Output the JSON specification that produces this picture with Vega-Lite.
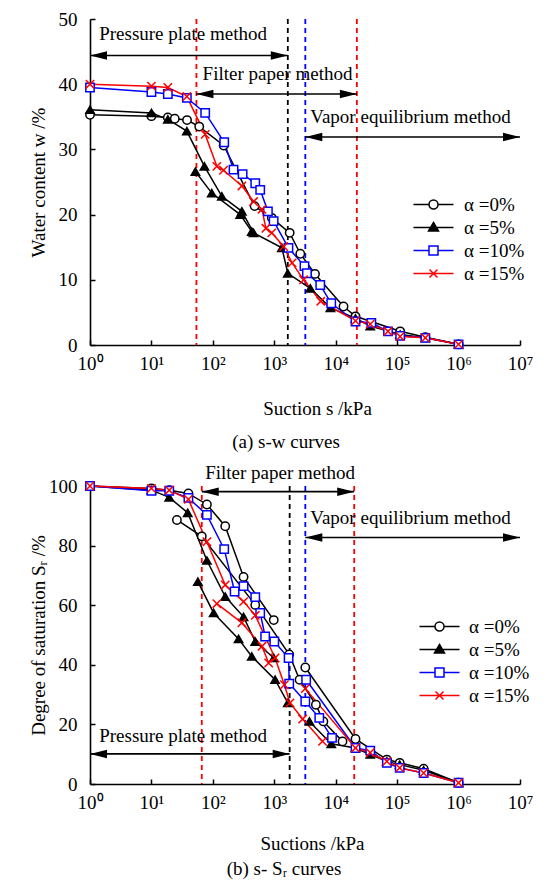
{
  "$schema": "https://vega.github.io/schema/vega-lite/v6.json",
  "background": "white",
  "padding": {"left": 29, "top": 10, "right": 0, "bottom": 0},
  "config": {
    "font": "Liberation Serif",
    "view": {"stroke": null},
    "axis": {"grid": false, "domainColor": "black", "domainWidth": 1.6, "tickColor": "black", "tickWidth": 1.5, "tickSize": -5, "labelFont": "Liberation Serif", "labelFontSize": 19, "labelColor": "black", "titleFont": "Liberation Serif", "titleFontSize": 19, "titleFontWeight": "normal", "titleColor": "black", "labelFlush": false, "labelOverlap": false},
    "legend": {"title": null, "orient": "none", "symbolSize": 100, "symbolStrokeWidth": 1.5, "labelFont": "Liberation Serif", "labelFontSize": 19, "labelColor": "black", "rowPadding": 3, "padding": 0},
    "title": {"font": "Liberation Serif", "fontSize": 19, "fontWeight": "normal", "color": "black"},
    "concat": {"spacing": 12}
  },
  "datasets": {
    "top": [
      {"series": "α =0%", "seg": "a", "s": 1, "v": 35.3},
      {"series": "α =0%", "seg": "a", "s": 10, "v": 35.1},
      {"series": "α =0%", "seg": "a", "s": 18.5, "v": 34.9},
      {"series": "α =0%", "seg": "a", "s": 24, "v": 34.7},
      {"series": "α =0%", "seg": "a", "s": 38, "v": 34.5},
      {"series": "α =0%", "seg": "a", "s": 60, "v": 33.5},
      {"series": "α =0%", "seg": "a", "s": 150, "v": 30.6},
      {"series": "α =0%", "seg": "a", "s": 478, "v": 21.3},
      {"series": "α =0%", "seg": "a", "s": 910, "v": 19.5},
      {"series": "α =0%", "seg": "a", "s": 1780, "v": 17.2},
      {"series": "α =0%", "seg": "a", "s": 2650, "v": 14.0},
      {"series": "α =0%", "seg": "a", "s": 4600, "v": 10.9},
      {"series": "α =0%", "seg": "a", "s": 13400, "v": 5.9},
      {"series": "α =0%", "seg": "a", "s": 21000, "v": 4.4},
      {"series": "α =0%", "seg": "a", "s": 112000, "v": 2.1},
      {"series": "α =0%", "seg": "a", "s": 288000, "v": 1.2},
      {"series": "α =0%", "seg": "a", "s": 1000000, "v": 0.1},
      {"series": "α =5%", "seg": "a", "s": 1, "v": 36.1},
      {"series": "α =5%", "seg": "a", "s": 10, "v": 35.6},
      {"series": "α =5%", "seg": "a", "s": 18.5, "v": 34.6},
      {"series": "α =5%", "seg": "a", "s": 37.7, "v": 32.8},
      {"series": "α =5%", "seg": "a", "s": 73, "v": 27.4},
      {"series": "α =5%", "seg": "a", "s": 140, "v": 22.8},
      {"series": "α =5%", "seg": "a", "s": 297, "v": 20.5},
      {"series": "α =5%", "seg": "a", "s": 460, "v": 17.2},
      {"series": "α =5%", "seg": "a", "s": 1330, "v": 14.9},
      {"series": "α =5%", "seg": "a", "s": 1660, "v": 11.0},
      {"series": "α =5%", "seg": "a", "s": 3860, "v": 8.7},
      {"series": "α =5%", "seg": "a", "s": 8200, "v": 5.7},
      {"series": "α =5%", "seg": "a", "s": 21000, "v": 4.1},
      {"series": "α =5%", "seg": "a", "s": 36500, "v": 2.9},
      {"series": "α =5%", "seg": "a", "s": 112000, "v": 1.6},
      {"series": "α =5%", "seg": "a", "s": 288000, "v": 1.1},
      {"series": "α =5%", "seg": "a", "s": 1000000, "v": 0.1},
      {"series": "α =5%", "seg": "b", "s": 52, "v": 26.6},
      {"series": "α =5%", "seg": "b", "s": 96, "v": 23.3},
      {"series": "α =5%", "seg": "b", "s": 279, "v": 20.0},
      {"series": "α =5%", "seg": "b", "s": 430, "v": 17.4},
      {"series": "α =10%", "seg": "a", "s": 1, "v": 39.5},
      {"series": "α =10%", "seg": "a", "s": 10, "v": 38.8},
      {"series": "α =10%", "seg": "a", "s": 18.5, "v": 38.5},
      {"series": "α =10%", "seg": "a", "s": 37.7, "v": 37.9},
      {"series": "α =10%", "seg": "a", "s": 75, "v": 35.6},
      {"series": "α =10%", "seg": "a", "s": 153, "v": 31.1},
      {"series": "α =10%", "seg": "a", "s": 217, "v": 26.9},
      {"series": "α =10%", "seg": "a", "s": 305, "v": 26.2},
      {"series": "α =10%", "seg": "a", "s": 490, "v": 24.8},
      {"series": "α =10%", "seg": "a", "s": 590, "v": 23.8},
      {"series": "α =10%", "seg": "a", "s": 787, "v": 20.5},
      {"series": "α =10%", "seg": "a", "s": 975, "v": 19.0},
      {"series": "α =10%", "seg": "a", "s": 1700, "v": 14.9},
      {"series": "α =10%", "seg": "a", "s": 3100, "v": 12.1},
      {"series": "α =10%", "seg": "a", "s": 3400, "v": 11.0},
      {"series": "α =10%", "seg": "a", "s": 5600, "v": 9.2},
      {"series": "α =10%", "seg": "a", "s": 8450, "v": 6.4},
      {"series": "α =10%", "seg": "a", "s": 21000, "v": 3.6},
      {"series": "α =10%", "seg": "a", "s": 38000, "v": 3.4},
      {"series": "α =10%", "seg": "a", "s": 71000, "v": 2.1},
      {"series": "α =10%", "seg": "a", "s": 112000, "v": 1.4},
      {"series": "α =10%", "seg": "a", "s": 288000, "v": 1.1},
      {"series": "α =10%", "seg": "a", "s": 1000000, "v": 0.1},
      {"series": "α =15%", "seg": "a", "s": 1, "v": 40.0},
      {"series": "α =15%", "seg": "a", "s": 10, "v": 39.7},
      {"series": "α =15%", "seg": "a", "s": 18.5, "v": 39.5},
      {"series": "α =15%", "seg": "a", "s": 37.7, "v": 38.1},
      {"series": "α =15%", "seg": "a", "s": 75, "v": 32.3},
      {"series": "α =15%", "seg": "a", "s": 116, "v": 27.4},
      {"series": "α =15%", "seg": "a", "s": 149, "v": 26.8},
      {"series": "α =15%", "seg": "a", "s": 297, "v": 24.4},
      {"series": "α =15%", "seg": "a", "s": 460, "v": 22.0},
      {"series": "α =15%", "seg": "a", "s": 630, "v": 20.8},
      {"series": "α =15%", "seg": "a", "s": 730, "v": 17.9},
      {"series": "α =15%", "seg": "a", "s": 910, "v": 17.2},
      {"series": "α =15%", "seg": "a", "s": 1420, "v": 15.1},
      {"series": "α =15%", "seg": "a", "s": 1950, "v": 12.6},
      {"series": "α =15%", "seg": "a", "s": 3000, "v": 10.0},
      {"series": "α =15%", "seg": "a", "s": 5700, "v": 6.7},
      {"series": "α =15%", "seg": "a", "s": 21000, "v": 3.7},
      {"series": "α =15%", "seg": "a", "s": 36500, "v": 3.2},
      {"series": "α =15%", "seg": "a", "s": 71000, "v": 2.1},
      {"series": "α =15%", "seg": "a", "s": 112000, "v": 1.3},
      {"series": "α =15%", "seg": "a", "s": 288000, "v": 1.1},
      {"series": "α =15%", "seg": "a", "s": 1000000, "v": 0.1}
    ],
    "bot": [
      {"series": "α =0%", "seg": "a", "s": 1, "v": 100},
      {"series": "α =0%", "seg": "a", "s": 10, "v": 99.2},
      {"series": "α =0%", "seg": "a", "s": 19.5, "v": 98.6},
      {"series": "α =0%", "seg": "a", "s": 40, "v": 97.5},
      {"series": "α =0%", "seg": "a", "s": 80, "v": 93.8},
      {"series": "α =0%", "seg": "a", "s": 159, "v": 86.5},
      {"series": "α =0%", "seg": "a", "s": 316, "v": 69.5},
      {"series": "α =0%", "seg": "a", "s": 980, "v": 55.0},
      {"series": "α =0%", "seg": "b", "s": 26, "v": 88.6},
      {"series": "α =0%", "seg": "b", "s": 66, "v": 83.1},
      {"series": "α =0%", "seg": "b", "s": 490, "v": 60.1},
      {"series": "α =0%", "seg": "b", "s": 1750, "v": 43.5},
      {"series": "α =0%", "seg": "b", "s": 2580, "v": 35.0},
      {"series": "α =0%", "seg": "b", "s": 4760, "v": 26.6},
      {"series": "α =0%", "seg": "b", "s": 6300, "v": 21.0},
      {"series": "α =0%", "seg": "b", "s": 12900, "v": 14.3},
      {"series": "α =0%", "seg": "c", "s": 3200, "v": 39.1},
      {"series": "α =0%", "seg": "c", "s": 21000, "v": 15.1},
      {"series": "α =0%", "seg": "c", "s": 68000, "v": 8.2},
      {"series": "α =0%", "seg": "c", "s": 110000, "v": 7.1},
      {"series": "α =0%", "seg": "c", "s": 270000, "v": 5.1},
      {"series": "α =0%", "seg": "c", "s": 1000000, "v": 0.4},
      {"series": "α =5%", "seg": "a", "s": 1, "v": 100},
      {"series": "α =5%", "seg": "a", "s": 10, "v": 98.6},
      {"series": "α =5%", "seg": "a", "s": 19.5, "v": 96.2},
      {"series": "α =5%", "seg": "a", "s": 39, "v": 91.0},
      {"series": "α =5%", "seg": "a", "s": 80, "v": 75.0},
      {"series": "α =5%", "seg": "a", "s": 159, "v": 62.9},
      {"series": "α =5%", "seg": "a", "s": 316, "v": 56.1},
      {"series": "α =5%", "seg": "a", "s": 490, "v": 47.8},
      {"series": "α =5%", "seg": "a", "s": 980, "v": 42.3},
      {"series": "α =5%", "seg": "b", "s": 57, "v": 67.9},
      {"series": "α =5%", "seg": "b", "s": 103, "v": 57.4},
      {"series": "α =5%", "seg": "b", "s": 262, "v": 48.7},
      {"series": "α =5%", "seg": "b", "s": 430, "v": 42.8},
      {"series": "α =5%", "seg": "b", "s": 1030, "v": 35.0},
      {"series": "α =5%", "seg": "b", "s": 1660, "v": 27.2},
      {"series": "α =5%", "seg": "c", "s": 3730, "v": 21.0},
      {"series": "α =5%", "seg": "c", "s": 8450, "v": 13.5},
      {"series": "α =5%", "seg": "c", "s": 21000, "v": 12.1},
      {"series": "α =5%", "seg": "c", "s": 36500, "v": 9.9},
      {"series": "α =5%", "seg": "c", "s": 68000, "v": 7.6},
      {"series": "α =5%", "seg": "c", "s": 110000, "v": 6.5},
      {"series": "α =5%", "seg": "c", "s": 270000, "v": 4.6},
      {"series": "α =5%", "seg": "c", "s": 1000000, "v": 0.4},
      {"series": "α =10%", "seg": "a", "s": 1, "v": 100},
      {"series": "α =10%", "seg": "a", "s": 10, "v": 98.4},
      {"series": "α =10%", "seg": "a", "s": 19.5, "v": 98.4},
      {"series": "α =10%", "seg": "a", "s": 40, "v": 96.0},
      {"series": "α =10%", "seg": "a", "s": 80, "v": 90.3},
      {"series": "α =10%", "seg": "a", "s": 153, "v": 78.8},
      {"series": "α =10%", "seg": "a", "s": 226, "v": 64.6},
      {"series": "α =10%", "seg": "a", "s": 316, "v": 66.4},
      {"series": "α =10%", "seg": "a", "s": 490, "v": 62.7},
      {"series": "α =10%", "seg": "a", "s": 590, "v": 57.4},
      {"series": "α =10%", "seg": "a", "s": 710, "v": 49.5},
      {"series": "α =10%", "seg": "a", "s": 1000, "v": 47.8},
      {"series": "α =10%", "seg": "a", "s": 1710, "v": 42.3},
      {"series": "α =10%", "seg": "a", "s": 1750, "v": 33.7},
      {"series": "α =10%", "seg": "a", "s": 3200, "v": 27.7},
      {"series": "α =10%", "seg": "a", "s": 5400, "v": 22.2},
      {"series": "α =10%", "seg": "a", "s": 8700, "v": 15.5},
      {"series": "α =10%", "seg": "c", "s": 3300, "v": 35.0},
      {"series": "α =10%", "seg": "c", "s": 21000, "v": 12.1},
      {"series": "α =10%", "seg": "c", "s": 36500, "v": 11.2},
      {"series": "α =10%", "seg": "c", "s": 68000, "v": 7.1},
      {"series": "α =10%", "seg": "c", "s": 110000, "v": 5.4},
      {"series": "α =10%", "seg": "c", "s": 270000, "v": 3.7},
      {"series": "α =10%", "seg": "c", "s": 1000000, "v": 0.4},
      {"series": "α =15%", "seg": "a", "s": 1, "v": 100},
      {"series": "α =15%", "seg": "a", "s": 10, "v": 99.2},
      {"series": "α =15%", "seg": "a", "s": 19.5, "v": 98.6},
      {"series": "α =15%", "seg": "a", "s": 40, "v": 95.5},
      {"series": "α =15%", "seg": "a", "s": 80, "v": 81.3},
      {"series": "α =15%", "seg": "a", "s": 159, "v": 66.8},
      {"series": "α =15%", "seg": "a", "s": 316, "v": 61.2},
      {"series": "α =15%", "seg": "a", "s": 490, "v": 56.6},
      {"series": "α =15%", "seg": "a", "s": 1030, "v": 42.3},
      {"series": "α =15%", "seg": "a", "s": 1460, "v": 33.3},
      {"series": "α =15%", "seg": "a", "s": 1800, "v": 27.2},
      {"series": "α =15%", "seg": "a", "s": 2900, "v": 21.8},
      {"series": "α =15%", "seg": "a", "s": 6100, "v": 14.3},
      {"series": "α =15%", "seg": "b", "s": 116, "v": 60.5},
      {"series": "α =15%", "seg": "b", "s": 297, "v": 54.1},
      {"series": "α =15%", "seg": "b", "s": 630, "v": 46.2},
      {"series": "α =15%", "seg": "b", "s": 810, "v": 40.6},
      {"series": "α =15%", "seg": "c", "s": 3200, "v": 32.0},
      {"series": "α =15%", "seg": "c", "s": 21000, "v": 12.1},
      {"series": "α =15%", "seg": "c", "s": 36500, "v": 10.5},
      {"series": "α =15%", "seg": "c", "s": 68000, "v": 7.6},
      {"series": "α =15%", "seg": "c", "s": 110000, "v": 5.4},
      {"series": "α =15%", "seg": "c", "s": 270000, "v": 3.7},
      {"series": "α =15%", "seg": "c", "s": 1000000, "v": 0.4}
    ],
    "topArrows": [
      {"method": "Pressure plate method", "s": 1, "s2": 1660, "v": 44.4},
      {"method": "Filter paper method", "s": 54, "s2": 22100, "v": 38.5},
      {"method": "Vapor equilibrium method", "s": 3200, "s2": 10000000, "v": 31.9}
    ],
    "topText": [
      {"label": "Pressure plate method", "s": 1.41, "v": 47.7},
      {"label": "Filter paper method", "s": 68, "v": 41.6},
      {"label": "Vapor equilibrium method", "s": 3860, "v": 34.9}
    ],
    "botArrows": [
      {"method": "Pressure plate method", "s": 1, "s2": 1780, "v": 10.1},
      {"method": "Filter paper method", "s": 66, "s2": 20000, "v": 98.1},
      {"method": "Vapor equilibrium method", "s": 3200, "s2": 10000000, "v": 82.7}
    ],
    "botText": [
      {"label": "Pressure plate method", "s": 1.41, "v": 16.2},
      {"label": "Filter paper method", "s": 75, "v": 104.3},
      {"label": "Vapor equilibrium method", "s": 3860, "v": 89.4}
    ]
  },
  "vconcat": [
    {
      "width": 430,
      "height": 326,
      "title": {"text": "(a) s-w curves", "orient": "bottom", "offset": 15, "dx": -19},
      "encoding": {
        "x": {"field": "s", "type": "quantitative", "scale": {"type": "log", "domain": [1, 10000000]},
              "axis": {"title": "Suction s /kPa", "values": [1, 10, 100, 1000, 10000, 100000, 1000000, 10000000], "labelExpr": "'10' + ['⁰','¹','²','³','⁴','⁵','⁶','⁷'][round(log(datum.value)/LN10)]", "labelPadding": 14, "titlePadding": 26, "titleX": 227}}
      },
      "layer": [
        {"data": {"values": [{"s": 54}, {"s": 22100}]}, "mark": {"type": "rule", "color": "#ff0000", "strokeDash": [5, 4], "strokeWidth": 1.8}, "encoding": {}},
        {"data": {"values": [{"s": 1660}]}, "mark": {"type": "rule", "color": "#000000", "strokeDash": [5, 4], "strokeWidth": 1.8}, "encoding": {}},
        {"data": {"values": [{"s": 3200}]}, "mark": {"type": "rule", "color": "#0000ff", "strokeDash": [5, 4], "strokeWidth": 1.8}, "encoding": {}},
        {"data": {"name": "topArrows"}, "mark": {"type": "rule", "color": "black", "strokeWidth": 1.6},
         "encoding": {"x2": {"field": "s2"},
                      "y": {"field": "v", "type": "quantitative", "scale": {"domain": [0, 50], "nice": false}, "axis": {"title": "Water content w /%", "values": [0, 10, 20, 30, 40, 50], "labelPadding": 18, "titleX": -42}}}},
        {"data": {"name": "topArrows"}, "mark": {"type": "point", "shape": "M0,0L2,-0.5L2,0.5Z", "filled": true, "color": "black", "size": 289, "opacity": 1, "strokeWidth": 0},
         "encoding": {"y": {"field": "v", "type": "quantitative", "scale": {"domain": [0, 50], "nice": false}, "axis": {"title": "Water content w /%", "values": [0, 10, 20, 30, 40, 50], "labelPadding": 18, "titleX": -42}}}},
        {"data": {"name": "topArrows"}, "mark": {"type": "point", "shape": "M0,0L-2,-0.5L-2,0.5Z", "filled": true, "color": "black", "size": 289, "opacity": 1, "strokeWidth": 0},
         "encoding": {"x": {"field": "s2", "type": "quantitative", "axis": {"title": "Suction s /kPa"}},
                      "y": {"field": "v", "type": "quantitative", "scale": {"domain": [0, 50], "nice": false}, "axis": {"title": "Water content w /%", "values": [0, 10, 20, 30, 40, 50], "labelPadding": 18, "titleX": -42}}}},
        {"data": {"name": "topText"}, "mark": {"type": "text", "align": "left", "baseline": "middle", "fontSize": 19, "font": "Liberation Serif", "color": "black"},
         "encoding": {"text": {"field": "label"},
                      "y": {"field": "v", "type": "quantitative", "scale": {"domain": [0, 50], "nice": false}, "axis": {"title": "Water content w /%", "values": [0, 10, 20, 30, 40, 50], "labelPadding": 18, "titleX": -42}}}},
        {"data": {"name": "top"}, "mark": {"type": "line", "strokeWidth": 1.5},
         "encoding": {"stroke": {"field": "series", "type": "nominal", "scale": {"domain": ["α =0%", "α =5%", "α =10%", "α =15%"], "range": ["#000000", "#000000", "#0000ff", "#ff0000"]},
                                 "legend": {"legendX": 319, "legendY": 176, "labelOffset": 36, "encode": {"symbols": {"update": {"shape": {"signal": "datum.value === 'α =0%' ? 'M-1,0H2.1M3.9,0H7M3.9,0A0.9,0.9,0,1,1,2.1,0A0.9,0.9,0,1,1,3.9,0Z' : datum.value === 'α =5%' ? 'M-1,0H7M3,-1L4,0.7L2,0.7Z' : datum.value === 'α =10%' ? 'M-1,0H2.1M3.9,0H7M2.1,-0.9H3.9V0.9H2.1Z' : 'M-1,0H7M2.2,-0.8L3.8,0.8M2.2,0.8L3.8,-0.8'"}, "size": {"value": 100}, "strokeWidth": {"value": 1.5}, "opacity": {"value": 1}}}}}},
                      "detail": {"field": "seg"},
                      "y": {"field": "v", "type": "quantitative", "scale": {"domain": [0, 50], "nice": false}, "axis": {"title": "Water content w /%", "values": [0, 10, 20, 30, 40, 50], "labelPadding": 18, "titleX": -42}}}},
        {"data": {"name": "top"}, "transform": [{"filter": {"field": "series", "equal": "α =0%"}}],
         "mark": {"type": "point", "shape": "circle", "filled": true, "size": 70, "strokeWidth": 1.5, "opacity": 1},
         "encoding": {
           "y": {"field": "v", "type": "quantitative", "scale": {"domain": [0, 50], "nice": false}, "axis": {"title": "Water content w /%", "values": [0, 10, 20, 30, 40, 50], "labelPadding": 18, "titleX": -42}},
           "stroke": {"field": "series", "type": "nominal", "scale": {"domain": ["α =0%", "α =5%", "α =10%", "α =15%"], "range": ["#000000", "#000000", "#0000ff", "#ff0000"]},
                      "legend": {"legendX": 319, "legendY": 176, "labelOffset": 36, "encode": {"symbols": {"update": {"shape": {"signal": "datum.value === 'α =0%' ? 'M-1,0H2.1M3.9,0H7M3.9,0A0.9,0.9,0,1,1,2.1,0A0.9,0.9,0,1,1,3.9,0Z' : datum.value === 'α =5%' ? 'M-1,0H7M3,-1L4,0.7L2,0.7Z' : datum.value === 'α =10%' ? 'M-1,0H2.1M3.9,0H7M2.1,-0.9H3.9V0.9H2.1Z' : 'M-1,0H7M2.2,-0.8L3.8,0.8M2.2,0.8L3.8,-0.8'"}, "size": {"value": 100}, "strokeWidth": {"value": 1.5}, "opacity": {"value": 1}}}}}},
           "fill": {"field": "series", "type": "nominal", "scale": {"domain": ["α =0%", "α =5%", "α =10%", "α =15%"], "range": ["#ffffff", "#000000", "#ffffff", "#ff0000"]},
                      "legend": {"legendX": 319, "legendY": 176, "labelOffset": 36, "encode": {"symbols": {"update": {"shape": {"signal": "datum.value === 'α =0%' ? 'M-1,0H2.1M3.9,0H7M3.9,0A0.9,0.9,0,1,1,2.1,0A0.9,0.9,0,1,1,3.9,0Z' : datum.value === 'α =5%' ? 'M-1,0H7M3,-1L4,0.7L2,0.7Z' : datum.value === 'α =10%' ? 'M-1,0H2.1M3.9,0H7M2.1,-0.9H3.9V0.9H2.1Z' : 'M-1,0H7M2.2,-0.8L3.8,0.8M2.2,0.8L3.8,-0.8'"}, "size": {"value": 100}, "strokeWidth": {"value": 1.5}, "opacity": {"value": 1}}}}}}
         }},
        {"data": {"name": "top"}, "transform": [{"filter": {"field": "series", "equal": "α =5%"}}],
         "mark": {"type": "point", "shape": "triangle-up", "filled": true, "size": 70, "strokeWidth": 1.5, "opacity": 1},
         "encoding": {
           "y": {"field": "v", "type": "quantitative", "scale": {"domain": [0, 50], "nice": false}, "axis": {"title": "Water content w /%", "values": [0, 10, 20, 30, 40, 50], "labelPadding": 18, "titleX": -42}},
           "stroke": {"field": "series", "type": "nominal", "scale": {"domain": ["α =0%", "α =5%", "α =10%", "α =15%"], "range": ["#000000", "#000000", "#0000ff", "#ff0000"]},
                      "legend": {"legendX": 319, "legendY": 176, "labelOffset": 36, "encode": {"symbols": {"update": {"shape": {"signal": "datum.value === 'α =0%' ? 'M-1,0H2.1M3.9,0H7M3.9,0A0.9,0.9,0,1,1,2.1,0A0.9,0.9,0,1,1,3.9,0Z' : datum.value === 'α =5%' ? 'M-1,0H7M3,-1L4,0.7L2,0.7Z' : datum.value === 'α =10%' ? 'M-1,0H2.1M3.9,0H7M2.1,-0.9H3.9V0.9H2.1Z' : 'M-1,0H7M2.2,-0.8L3.8,0.8M2.2,0.8L3.8,-0.8'"}, "size": {"value": 100}, "strokeWidth": {"value": 1.5}, "opacity": {"value": 1}}}}}},
           "fill": {"field": "series", "type": "nominal", "scale": {"domain": ["α =0%", "α =5%", "α =10%", "α =15%"], "range": ["#ffffff", "#000000", "#ffffff", "#ff0000"]},
                      "legend": {"legendX": 319, "legendY": 176, "labelOffset": 36, "encode": {"symbols": {"update": {"shape": {"signal": "datum.value === 'α =0%' ? 'M-1,0H2.1M3.9,0H7M3.9,0A0.9,0.9,0,1,1,2.1,0A0.9,0.9,0,1,1,3.9,0Z' : datum.value === 'α =5%' ? 'M-1,0H7M3,-1L4,0.7L2,0.7Z' : datum.value === 'α =10%' ? 'M-1,0H2.1M3.9,0H7M2.1,-0.9H3.9V0.9H2.1Z' : 'M-1,0H7M2.2,-0.8L3.8,0.8M2.2,0.8L3.8,-0.8'"}, "size": {"value": 100}, "strokeWidth": {"value": 1.5}, "opacity": {"value": 1}}}}}}
         }},
        {"data": {"name": "top"}, "transform": [{"filter": {"field": "series", "equal": "α =10%"}}],
         "mark": {"type": "point", "shape": "square", "filled": true, "size": 70, "strokeWidth": 1.5, "opacity": 1},
         "encoding": {
           "y": {"field": "v", "type": "quantitative", "scale": {"domain": [0, 50], "nice": false}, "axis": {"title": "Water content w /%", "values": [0, 10, 20, 30, 40, 50], "labelPadding": 18, "titleX": -42}},
           "stroke": {"field": "series", "type": "nominal", "scale": {"domain": ["α =0%", "α =5%", "α =10%", "α =15%"], "range": ["#000000", "#000000", "#0000ff", "#ff0000"]},
                      "legend": {"legendX": 319, "legendY": 176, "labelOffset": 36, "encode": {"symbols": {"update": {"shape": {"signal": "datum.value === 'α =0%' ? 'M-1,0H2.1M3.9,0H7M3.9,0A0.9,0.9,0,1,1,2.1,0A0.9,0.9,0,1,1,3.9,0Z' : datum.value === 'α =5%' ? 'M-1,0H7M3,-1L4,0.7L2,0.7Z' : datum.value === 'α =10%' ? 'M-1,0H2.1M3.9,0H7M2.1,-0.9H3.9V0.9H2.1Z' : 'M-1,0H7M2.2,-0.8L3.8,0.8M2.2,0.8L3.8,-0.8'"}, "size": {"value": 100}, "strokeWidth": {"value": 1.5}, "opacity": {"value": 1}}}}}},
           "fill": {"field": "series", "type": "nominal", "scale": {"domain": ["α =0%", "α =5%", "α =10%", "α =15%"], "range": ["#ffffff", "#000000", "#ffffff", "#ff0000"]},
                      "legend": {"legendX": 319, "legendY": 176, "labelOffset": 36, "encode": {"symbols": {"update": {"shape": {"signal": "datum.value === 'α =0%' ? 'M-1,0H2.1M3.9,0H7M3.9,0A0.9,0.9,0,1,1,2.1,0A0.9,0.9,0,1,1,3.9,0Z' : datum.value === 'α =5%' ? 'M-1,0H7M3,-1L4,0.7L2,0.7Z' : datum.value === 'α =10%' ? 'M-1,0H2.1M3.9,0H7M2.1,-0.9H3.9V0.9H2.1Z' : 'M-1,0H7M2.2,-0.8L3.8,0.8M2.2,0.8L3.8,-0.8'"}, "size": {"value": 100}, "strokeWidth": {"value": 1.5}, "opacity": {"value": 1}}}}}}
         }},
        {"data": {"name": "top"}, "transform": [{"filter": {"field": "series", "equal": "α =15%"}}],
         "mark": {"type": "point", "shape": "M-1,-1L1,1M-1,1L1,-1", "filled": true, "size": 70, "strokeWidth": 1.5, "opacity": 1},
         "encoding": {
           "y": {"field": "v", "type": "quantitative", "scale": {"domain": [0, 50], "nice": false}, "axis": {"title": "Water content w /%", "values": [0, 10, 20, 30, 40, 50], "labelPadding": 18, "titleX": -42}},
           "stroke": {"field": "series", "type": "nominal", "scale": {"domain": ["α =0%", "α =5%", "α =10%", "α =15%"], "range": ["#000000", "#000000", "#0000ff", "#ff0000"]},
                      "legend": {"legendX": 319, "legendY": 176, "labelOffset": 36, "encode": {"symbols": {"update": {"shape": {"signal": "datum.value === 'α =0%' ? 'M-1,0H2.1M3.9,0H7M3.9,0A0.9,0.9,0,1,1,2.1,0A0.9,0.9,0,1,1,3.9,0Z' : datum.value === 'α =5%' ? 'M-1,0H7M3,-1L4,0.7L2,0.7Z' : datum.value === 'α =10%' ? 'M-1,0H2.1M3.9,0H7M2.1,-0.9H3.9V0.9H2.1Z' : 'M-1,0H7M2.2,-0.8L3.8,0.8M2.2,0.8L3.8,-0.8'"}, "size": {"value": 100}, "strokeWidth": {"value": 1.5}, "opacity": {"value": 1}}}}}},
           "fill": {"field": "series", "type": "nominal", "scale": {"domain": ["α =0%", "α =5%", "α =10%", "α =15%"], "range": ["#ffffff", "#000000", "#ffffff", "#ff0000"]},
                      "legend": {"legendX": 319, "legendY": 176, "labelOffset": 36, "encode": {"symbols": {"update": {"shape": {"signal": "datum.value === 'α =0%' ? 'M-1,0H2.1M3.9,0H7M3.9,0A0.9,0.9,0,1,1,2.1,0A0.9,0.9,0,1,1,3.9,0Z' : datum.value === 'α =5%' ? 'M-1,0H7M3,-1L4,0.7L2,0.7Z' : datum.value === 'α =10%' ? 'M-1,0H2.1M3.9,0H7M2.1,-0.9H3.9V0.9H2.1Z' : 'M-1,0H7M2.2,-0.8L3.8,0.8M2.2,0.8L3.8,-0.8'"}, "size": {"value": 100}, "strokeWidth": {"value": 1.5}, "opacity": {"value": 1}}}}}}
         }}
      ]
    },
    {
      "width": 430,
      "height": 298,
      "title": {"text": "(b) s- Sᵣ curves", "orient": "bottom", "offset": 7, "dx": -21},
      "encoding": {
        "x": {"field": "s", "type": "quantitative", "scale": {"type": "log", "domain": [1, 10000000]},
              "axis": {"title": "Suctions /kPa", "values": [1, 10, 100, 1000, 10000, 100000, 1000000, 10000000], "labelExpr": "'10' + ['⁰','¹','²','³','⁴','⁵','⁶','⁷'][round(log(datum.value)/LN10)]", "labelPadding": 14, "titlePadding": 22, "titleX": 222}}
      },
      "layer": [
        {"data": {"values": [{"s": 66}, {"s": 20000}]}, "mark": {"type": "rule", "color": "#ff0000", "strokeDash": [5, 4], "strokeWidth": 1.8}, "encoding": {}},
        {"data": {"values": [{"s": 1780}]}, "mark": {"type": "rule", "color": "#000000", "strokeDash": [5, 4], "strokeWidth": 1.8}, "encoding": {}},
        {"data": {"values": [{"s": 3200}]}, "mark": {"type": "rule", "color": "#0000ff", "strokeDash": [5, 4], "strokeWidth": 1.8}, "encoding": {}},
        {"data": {"name": "botArrows"}, "mark": {"type": "rule", "color": "black", "strokeWidth": 1.6},
         "encoding": {"x2": {"field": "s2"},
                      "y": {"field": "v", "type": "quantitative", "scale": {"domain": [0, 100], "nice": false}, "axis": {"title": "Degree of saturation Sᵣ /%", "values": [0, 20, 40, 60, 80, 100], "labelPadding": 18, "titleX": -42}}}},
        {"data": {"name": "botArrows"}, "mark": {"type": "point", "shape": "M0,0L2,-0.5L2,0.5Z", "filled": true, "color": "black", "size": 289, "opacity": 1, "strokeWidth": 0},
         "encoding": {"y": {"field": "v", "type": "quantitative", "scale": {"domain": [0, 100], "nice": false}, "axis": {"title": "Degree of saturation Sᵣ /%", "values": [0, 20, 40, 60, 80, 100], "labelPadding": 18, "titleX": -42}}}},
        {"data": {"name": "botArrows"}, "mark": {"type": "point", "shape": "M0,0L-2,-0.5L-2,0.5Z", "filled": true, "color": "black", "size": 289, "opacity": 1, "strokeWidth": 0},
         "encoding": {"x": {"field": "s2", "type": "quantitative", "axis": {"title": "Suctions /kPa"}},
                      "y": {"field": "v", "type": "quantitative", "scale": {"domain": [0, 100], "nice": false}, "axis": {"title": "Degree of saturation Sᵣ /%", "values": [0, 20, 40, 60, 80, 100], "labelPadding": 18, "titleX": -42}}}},
        {"data": {"name": "botText"}, "mark": {"type": "text", "align": "left", "baseline": "middle", "fontSize": 19, "font": "Liberation Serif", "color": "black"},
         "encoding": {"text": {"field": "label"},
                      "y": {"field": "v", "type": "quantitative", "scale": {"domain": [0, 100], "nice": false}, "axis": {"title": "Degree of saturation Sᵣ /%", "values": [0, 20, 40, 60, 80, 100], "labelPadding": 18, "titleX": -42}}}},
        {"data": {"name": "bot"}, "mark": {"type": "line", "strokeWidth": 1.5},
         "encoding": {"stroke": {"field": "series", "type": "nominal", "scale": {"domain": ["α =0%", "α =5%", "α =10%", "α =15%"], "range": ["#000000", "#000000", "#0000ff", "#ff0000"]},
                                 "legend": {"legendX": 325, "legendY": 131, "labelOffset": 35, "encode": {"symbols": {"update": {"shape": {"signal": "datum.value === 'α =0%' ? 'M-1,0H2.1M3.9,0H7M3.9,0A0.9,0.9,0,1,1,2.1,0A0.9,0.9,0,1,1,3.9,0Z' : datum.value === 'α =5%' ? 'M-1,0H7M3,-1L4,0.7L2,0.7Z' : datum.value === 'α =10%' ? 'M-1,0H2.1M3.9,0H7M2.1,-0.9H3.9V0.9H2.1Z' : 'M-1,0H7M2.2,-0.8L3.8,0.8M2.2,0.8L3.8,-0.8'"}, "size": {"value": 100}, "strokeWidth": {"value": 1.5}, "opacity": {"value": 1}}}}}},
                      "detail": {"field": "seg"},
                      "y": {"field": "v", "type": "quantitative", "scale": {"domain": [0, 100], "nice": false}, "axis": {"title": "Degree of saturation Sᵣ /%", "values": [0, 20, 40, 60, 80, 100], "labelPadding": 18, "titleX": -42}}}},
        {"data": {"name": "bot"}, "transform": [{"filter": {"field": "series", "equal": "α =0%"}}],
         "mark": {"type": "point", "shape": "circle", "filled": true, "size": 70, "strokeWidth": 1.5, "opacity": 1},
         "encoding": {
           "y": {"field": "v", "type": "quantitative", "scale": {"domain": [0, 100], "nice": false}, "axis": {"title": "Degree of saturation Sᵣ /%", "values": [0, 20, 40, 60, 80, 100], "labelPadding": 18, "titleX": -42}},
           "stroke": {"field": "series", "type": "nominal", "scale": {"domain": ["α =0%", "α =5%", "α =10%", "α =15%"], "range": ["#000000", "#000000", "#0000ff", "#ff0000"]},
                      "legend": {"legendX": 325, "legendY": 131, "labelOffset": 35, "encode": {"symbols": {"update": {"shape": {"signal": "datum.value === 'α =0%' ? 'M-1,0H2.1M3.9,0H7M3.9,0A0.9,0.9,0,1,1,2.1,0A0.9,0.9,0,1,1,3.9,0Z' : datum.value === 'α =5%' ? 'M-1,0H7M3,-1L4,0.7L2,0.7Z' : datum.value === 'α =10%' ? 'M-1,0H2.1M3.9,0H7M2.1,-0.9H3.9V0.9H2.1Z' : 'M-1,0H7M2.2,-0.8L3.8,0.8M2.2,0.8L3.8,-0.8'"}, "size": {"value": 100}, "strokeWidth": {"value": 1.5}, "opacity": {"value": 1}}}}}},
           "fill": {"field": "series", "type": "nominal", "scale": {"domain": ["α =0%", "α =5%", "α =10%", "α =15%"], "range": ["#ffffff", "#000000", "#ffffff", "#ff0000"]},
                      "legend": {"legendX": 325, "legendY": 131, "labelOffset": 35, "encode": {"symbols": {"update": {"shape": {"signal": "datum.value === 'α =0%' ? 'M-1,0H2.1M3.9,0H7M3.9,0A0.9,0.9,0,1,1,2.1,0A0.9,0.9,0,1,1,3.9,0Z' : datum.value === 'α =5%' ? 'M-1,0H7M3,-1L4,0.7L2,0.7Z' : datum.value === 'α =10%' ? 'M-1,0H2.1M3.9,0H7M2.1,-0.9H3.9V0.9H2.1Z' : 'M-1,0H7M2.2,-0.8L3.8,0.8M2.2,0.8L3.8,-0.8'"}, "size": {"value": 100}, "strokeWidth": {"value": 1.5}, "opacity": {"value": 1}}}}}}
         }},
        {"data": {"name": "bot"}, "transform": [{"filter": {"field": "series", "equal": "α =5%"}}],
         "mark": {"type": "point", "shape": "triangle-up", "filled": true, "size": 70, "strokeWidth": 1.5, "opacity": 1},
         "encoding": {
           "y": {"field": "v", "type": "quantitative", "scale": {"domain": [0, 100], "nice": false}, "axis": {"title": "Degree of saturation Sᵣ /%", "values": [0, 20, 40, 60, 80, 100], "labelPadding": 18, "titleX": -42}},
           "stroke": {"field": "series", "type": "nominal", "scale": {"domain": ["α =0%", "α =5%", "α =10%", "α =15%"], "range": ["#000000", "#000000", "#0000ff", "#ff0000"]},
                      "legend": {"legendX": 325, "legendY": 131, "labelOffset": 35, "encode": {"symbols": {"update": {"shape": {"signal": "datum.value === 'α =0%' ? 'M-1,0H2.1M3.9,0H7M3.9,0A0.9,0.9,0,1,1,2.1,0A0.9,0.9,0,1,1,3.9,0Z' : datum.value === 'α =5%' ? 'M-1,0H7M3,-1L4,0.7L2,0.7Z' : datum.value === 'α =10%' ? 'M-1,0H2.1M3.9,0H7M2.1,-0.9H3.9V0.9H2.1Z' : 'M-1,0H7M2.2,-0.8L3.8,0.8M2.2,0.8L3.8,-0.8'"}, "size": {"value": 100}, "strokeWidth": {"value": 1.5}, "opacity": {"value": 1}}}}}},
           "fill": {"field": "series", "type": "nominal", "scale": {"domain": ["α =0%", "α =5%", "α =10%", "α =15%"], "range": ["#ffffff", "#000000", "#ffffff", "#ff0000"]},
                      "legend": {"legendX": 325, "legendY": 131, "labelOffset": 35, "encode": {"symbols": {"update": {"shape": {"signal": "datum.value === 'α =0%' ? 'M-1,0H2.1M3.9,0H7M3.9,0A0.9,0.9,0,1,1,2.1,0A0.9,0.9,0,1,1,3.9,0Z' : datum.value === 'α =5%' ? 'M-1,0H7M3,-1L4,0.7L2,0.7Z' : datum.value === 'α =10%' ? 'M-1,0H2.1M3.9,0H7M2.1,-0.9H3.9V0.9H2.1Z' : 'M-1,0H7M2.2,-0.8L3.8,0.8M2.2,0.8L3.8,-0.8'"}, "size": {"value": 100}, "strokeWidth": {"value": 1.5}, "opacity": {"value": 1}}}}}}
         }},
        {"data": {"name": "bot"}, "transform": [{"filter": {"field": "series", "equal": "α =10%"}}],
         "mark": {"type": "point", "shape": "square", "filled": true, "size": 70, "strokeWidth": 1.5, "opacity": 1},
         "encoding": {
           "y": {"field": "v", "type": "quantitative", "scale": {"domain": [0, 100], "nice": false}, "axis": {"title": "Degree of saturation Sᵣ /%", "values": [0, 20, 40, 60, 80, 100], "labelPadding": 18, "titleX": -42}},
           "stroke": {"field": "series", "type": "nominal", "scale": {"domain": ["α =0%", "α =5%", "α =10%", "α =15%"], "range": ["#000000", "#000000", "#0000ff", "#ff0000"]},
                      "legend": {"legendX": 325, "legendY": 131, "labelOffset": 35, "encode": {"symbols": {"update": {"shape": {"signal": "datum.value === 'α =0%' ? 'M-1,0H2.1M3.9,0H7M3.9,0A0.9,0.9,0,1,1,2.1,0A0.9,0.9,0,1,1,3.9,0Z' : datum.value === 'α =5%' ? 'M-1,0H7M3,-1L4,0.7L2,0.7Z' : datum.value === 'α =10%' ? 'M-1,0H2.1M3.9,0H7M2.1,-0.9H3.9V0.9H2.1Z' : 'M-1,0H7M2.2,-0.8L3.8,0.8M2.2,0.8L3.8,-0.8'"}, "size": {"value": 100}, "strokeWidth": {"value": 1.5}, "opacity": {"value": 1}}}}}},
           "fill": {"field": "series", "type": "nominal", "scale": {"domain": ["α =0%", "α =5%", "α =10%", "α =15%"], "range": ["#ffffff", "#000000", "#ffffff", "#ff0000"]},
                      "legend": {"legendX": 325, "legendY": 131, "labelOffset": 35, "encode": {"symbols": {"update": {"shape": {"signal": "datum.value === 'α =0%' ? 'M-1,0H2.1M3.9,0H7M3.9,0A0.9,0.9,0,1,1,2.1,0A0.9,0.9,0,1,1,3.9,0Z' : datum.value === 'α =5%' ? 'M-1,0H7M3,-1L4,0.7L2,0.7Z' : datum.value === 'α =10%' ? 'M-1,0H2.1M3.9,0H7M2.1,-0.9H3.9V0.9H2.1Z' : 'M-1,0H7M2.2,-0.8L3.8,0.8M2.2,0.8L3.8,-0.8'"}, "size": {"value": 100}, "strokeWidth": {"value": 1.5}, "opacity": {"value": 1}}}}}}
         }},
        {"data": {"name": "bot"}, "transform": [{"filter": {"field": "series", "equal": "α =15%"}}],
         "mark": {"type": "point", "shape": "M-1,-1L1,1M-1,1L1,-1", "filled": true, "size": 70, "strokeWidth": 1.5, "opacity": 1},
         "encoding": {
           "y": {"field": "v", "type": "quantitative", "scale": {"domain": [0, 100], "nice": false}, "axis": {"title": "Degree of saturation Sᵣ /%", "values": [0, 20, 40, 60, 80, 100], "labelPadding": 18, "titleX": -42}},
           "stroke": {"field": "series", "type": "nominal", "scale": {"domain": ["α =0%", "α =5%", "α =10%", "α =15%"], "range": ["#000000", "#000000", "#0000ff", "#ff0000"]},
                      "legend": {"legendX": 325, "legendY": 131, "labelOffset": 35, "encode": {"symbols": {"update": {"shape": {"signal": "datum.value === 'α =0%' ? 'M-1,0H2.1M3.9,0H7M3.9,0A0.9,0.9,0,1,1,2.1,0A0.9,0.9,0,1,1,3.9,0Z' : datum.value === 'α =5%' ? 'M-1,0H7M3,-1L4,0.7L2,0.7Z' : datum.value === 'α =10%' ? 'M-1,0H2.1M3.9,0H7M2.1,-0.9H3.9V0.9H2.1Z' : 'M-1,0H7M2.2,-0.8L3.8,0.8M2.2,0.8L3.8,-0.8'"}, "size": {"value": 100}, "strokeWidth": {"value": 1.5}, "opacity": {"value": 1}}}}}},
           "fill": {"field": "series", "type": "nominal", "scale": {"domain": ["α =0%", "α =5%", "α =10%", "α =15%"], "range": ["#ffffff", "#000000", "#ffffff", "#ff0000"]},
                      "legend": {"legendX": 325, "legendY": 131, "labelOffset": 35, "encode": {"symbols": {"update": {"shape": {"signal": "datum.value === 'α =0%' ? 'M-1,0H2.1M3.9,0H7M3.9,0A0.9,0.9,0,1,1,2.1,0A0.9,0.9,0,1,1,3.9,0Z' : datum.value === 'α =5%' ? 'M-1,0H7M3,-1L4,0.7L2,0.7Z' : datum.value === 'α =10%' ? 'M-1,0H2.1M3.9,0H7M2.1,-0.9H3.9V0.9H2.1Z' : 'M-1,0H7M2.2,-0.8L3.8,0.8M2.2,0.8L3.8,-0.8'"}, "size": {"value": 100}, "strokeWidth": {"value": 1.5}, "opacity": {"value": 1}}}}}}
         }}
      ]
    }
  ],
  "resolve": {
    "scale": {"stroke": "independent", "fill": "independent"},
    "legend": {"stroke": "independent", "fill": "independent"}
  }
}
